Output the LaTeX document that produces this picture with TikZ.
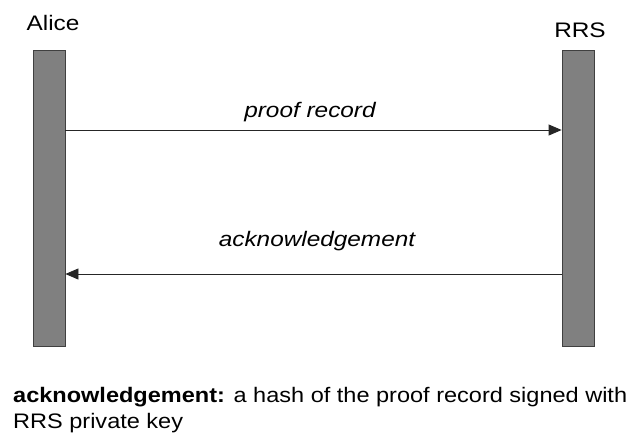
\documentclass[tikz,border=0pt]{standalone}
\usepackage{fontspec}
\setmainfont{Liberation Sans}
\usetikzlibrary{arrows.meta}
\newcommand{\wdstretch}[2][1.16]{\scalebox{#1}[1]{#2}}
\begin{document}
\begin{tikzpicture}[x=1pt,y=-1pt,
  lifebar/.style={draw=black!75,line width=0.8pt,fill=black!50,minimum width=32pt,minimum height=296pt,inner sep=0pt,anchor=north},
  msg/.style={-{Triangle[length=13pt,width=11pt]},line width=0.8pt,black!85},
  role/.style={font=\fontsize{21}{24}\selectfont,inner sep=0pt,anchor=base},
  msglabel/.style={font=\fontsize{21}{24}\selectfont\itshape,inner sep=0pt,anchor=base},
  notetext/.style={font=\fontsize{21}{26}\selectfont,inner sep=0pt,anchor=base west}]
\useasboundingbox (0,0) rectangle (634,437);
\node[lifebar] (alice) at (49,50) {};
\node[lifebar] (rrs) at (578,50) {};
\node[role] (alicelbl) at (53,30) {\wdstretch{Alice}};
\node[role] (rrslbl) at (580,37) {\wdstretch{RRS}};
\coordinate (p1) at (alice.east |- 0,130);
\coordinate (p2) at (rrs.west |- 0,274);
\draw[msg] (p1) -- (p1 -| rrs.west);
\draw[msg] (p2) -- (p2 -| alice.east);
\node[msglabel] (proof) at (310,117) {\wdstretch{proof record}};
\node[msglabel] (ack) at (317,246) {\wdstretch{acknowledgement}};
\node[notetext] (note1) at (13,402) {\wdstretch[1.12]{\textbf{acknowledgement:} a hash of the proof record signed with}};
\node[notetext] (note2) at (13,428) {\wdstretch[1.12]{RRS private key}};
\end{tikzpicture}
\end{document}
